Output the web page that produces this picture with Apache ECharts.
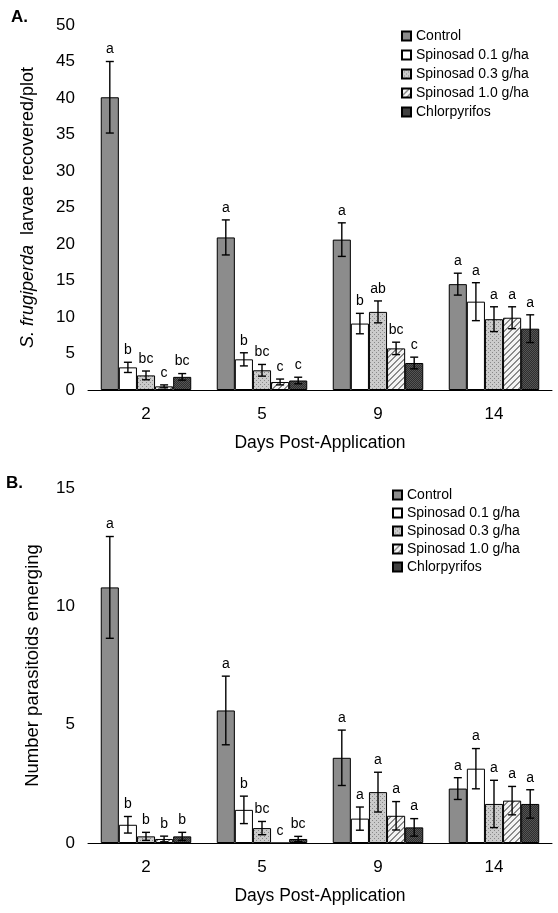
<!DOCTYPE html>
<html><head><meta charset="utf-8">
<script src="https://cdn.jsdelivr.net/npm/echarts@6/dist/echarts.min.js"></script>
<style>html,body{margin:0;padding:0;background:#fff}#c{width:558px;height:913px}</style>
</head><body><div id="c"></div>
<script>
// ---------- DATA ----------
const categories = ['2', '5', '9', '14'];
const seriesNames = ['Control', 'Spinosad 0.1 g/ha', 'Spinosad 0.3 g/ha', 'Spinosad 1.0 g/ha', 'Chlorpyrifos'];

// Panel A: S. frugiperda larvae recovered/plot
const larvaeControl = [40.1, 20.9, 20.6, 14.5];
const larvaeSpin01  = [3.1, 4.2, 9.1, 12.1];
const larvaeSpin03  = [2.0, 2.7, 10.7, 9.7];
const larvaeSpin10  = [0.5, 1.1, 5.7, 9.9];
const larvaeChlor   = [1.8, 1.3, 3.7, 8.4];
const larvaeErrControl = [4.9, 2.4, 2.3, 1.5];
const larvaeErrSpin01  = [0.7, 0.9, 1.4, 2.6];
const larvaeErrSpin03  = [0.6, 0.8, 1.5, 1.7];
const larvaeErrSpin10  = [0.2, 0.4, 0.85, 1.5];
const larvaeErrChlor   = [0.45, 0.45, 0.8, 1.9];
const larvaeLetControl = ['a', 'a', 'a', 'a'];
const larvaeLetSpin01  = ['b', 'b', 'b', 'a'];
const larvaeLetSpin03  = ['bc', 'bc', 'ab', 'a'];
const larvaeLetSpin10  = ['c', 'c', 'bc', 'a'];
const larvaeLetChlor   = ['bc', 'c', 'c', 'a'];
const larvaeTicks = [0, 5, 10, 15, 20, 25, 30, 35, 40, 45, 50];

// Panel B: Number parasitoids emerging
const parasControl = [10.8, 5.6, 3.6, 2.3];
const parasSpin01  = [0.77, 1.4, 1.03, 3.14];
const parasSpin03  = [0.28, 0.63, 2.15, 1.65];
const parasSpin10  = [0.17, 0, 1.15, 1.79];
const parasChlor   = [0.28, 0.17, 0.66, 1.65];
const parasErrControl = [2.15, 1.45, 1.17, 0.46];
const parasErrSpin01  = [0.35, 0.58, 0.49, 0.85];
const parasErrSpin03  = [0.17, 0.28, 0.84, 1.0];
const parasErrSpin10  = [0.12, 0, 0.6, 0.6];
const parasErrChlor   = [0.17, 0.11, 0.37, 0.6];
const parasLetControl = ['a', 'a', 'a', 'a'];
const parasLetSpin01  = ['b', 'b', 'a', 'a'];
const parasLetSpin03  = ['b', 'bc', 'a', 'a'];
const parasLetSpin10  = ['b', 'c', 'a', 'a'];
const parasLetChlor   = ['b', 'bc', 'a', 'a'];
const parasTicks = [0, 5, 10, 15];

// ---------- STYLE ----------
const GAP = 0.22;
function pat(w, h, fn) {
  const c = document.createElement('canvas'); c.width = w; c.height = h;
  const g = c.getContext('2d');
  for (let y = 0; y < h; y++) for (let x = 0; x < w; x++) { g.fillStyle = fn(x, y); g.fillRect(x, y, 1, 1); }
  return { image: c, repeat: 'repeat' };
}
const fills = [
  '#8c8c8c',
  '#ffffff',
  pat(4, 4, (x, y) => ((x % 2 === 0 && y % 2 === 0 && ((x + y) % 4 === 0)) ? '#888888' : '#cbcbcb')),
  pat(6, 6, (x, y) => (((x + y) % 6) < 2 ? '#8a8a8a' : '#f4f4f4')),
  pat(4, 4, (x, y) => (((x + y) % 2 === 0) ? '#555555' : '#2e2e2e'))
];

const panels = [
  { vals: [larvaeControl, larvaeSpin01, larvaeSpin03, larvaeSpin10, larvaeChlor],
    errs: [larvaeErrControl, larvaeErrSpin01, larvaeErrSpin03, larvaeErrSpin10, larvaeErrChlor],
    lets: [larvaeLetControl, larvaeLetSpin01, larvaeLetSpin03, larvaeLetSpin10, larvaeLetChlor] },
  { vals: [parasControl, parasSpin01, parasSpin03, parasSpin10, parasChlor],
    errs: [parasErrControl, parasErrSpin01, parasErrSpin03, parasErrSpin10, parasErrChlor],
    lets: [parasLetControl, parasLetSpin01, parasLetSpin03, parasLetSpin10, parasLetChlor] }
];

const FONT = 'Liberation Sans, Arial, Helvetica, sans-serif';
const series = [];
panels.forEach((p, pi) => {
  p.vals.forEach((v, si) => {
    series.push({
      type: 'bar', name: seriesNames[si], xAxisIndex: pi, yAxisIndex: pi,
      data: v, barGap: '0%', barCategoryGap: (GAP * 100) + '%',
      itemStyle: { color: fills[si], borderColor: '#000', borderWidth: 1 },
      emphasis: { disabled: true }, silent: true
    });
  });
  p.vals.forEach((v, si) => {
    const errs = p.errs[si], lets = p.lets[si];
    series.push({
      type: 'custom', xAxisIndex: pi, yAxisIndex: pi, silent: true, z: 10,
      data: v.map((val, ci) => [ci, val, errs[ci]]),
      renderItem: function (params, api) {
        const ci = api.value(0), val = api.value(1), e = api.value(2);
        const band = api.size([1, 0])[0];
        const bw = band * (1 - GAP) / 5;
        const c = api.coord([ci, val]);
        const x = c[0] - band * (1 - GAP) / 2 + bw * (si + 0.5);
        const top = api.coord([ci, val + e])[1];
        const bot = api.coord([ci, Math.max(val - e, 0)])[1];
        const children = [];
        if (e > 0) {
          const ls = { stroke: '#000', lineWidth: 1.4 };
          children.push({ type: 'line', shape: { x1: x, y1: top, x2: x, y2: bot }, style: ls });
          children.push({ type: 'line', shape: { x1: x - 4, y1: top, x2: x + 4, y2: top }, style: ls });
          children.push({ type: 'line', shape: { x1: x - 4, y1: bot, x2: x + 4, y2: bot }, style: ls });
        }
        children.push({ type: 'text', style: { text: lets[params.dataIndex], x: x, y: top - 5,
          textAlign: 'center', textVerticalAlign: 'bottom', fill: '#000', font: '14px ' + FONT } });
        return { type: 'group', children: children };
      }
    });
  });
});

const axisCommon = {
  axisLine: { lineStyle: { color: '#000', width: 1 } },
  axisTick: { lineStyle: { color: '#000' }, length: 5 },
  axisLabel: { color: '#000', fontSize: 17, fontFamily: FONT },
  splitLine: { show: false }
};

const option = {
  animation: false,
  backgroundColor: '#fff',
  textStyle: { fontFamily: FONT },
  grid: [
    { left: 88, right: 6, top: 25, height: 365 },
    { left: 88, right: 6, top: 488, height: 355 }
  ],
  xAxis: [0, 1].map(i => Object.assign({}, axisCommon, {
    type: 'category', gridIndex: i, data: categories,
    axisLabel: Object.assign({}, axisCommon.axisLabel, { margin: 16 }),
    name: 'Days Post-Application', nameLocation: 'middle', nameGap: 44,
    nameTextStyle: { color: '#000', fontSize: 17.5, fontFamily: FONT }
  })),
  yAxis: [
    Object.assign({}, axisCommon, {
      type: 'value', gridIndex: 0, min: larvaeTicks[0], max: larvaeTicks[larvaeTicks.length - 1], interval: 5,
      axisLabel: Object.assign({}, axisCommon.axisLabel, { margin: 13 }),
      name: '{i|S. frugiperda}  larvae recovered/plot', nameLocation: 'middle', nameGap: 51,
      nameTextStyle: { color: '#000', fontSize: 18, fontFamily: FONT,
        rich: { i: { fontStyle: 'italic', fontSize: 18, fontFamily: FONT, color: '#000' } } }
    }),
    Object.assign({}, axisCommon, {
      type: 'value', gridIndex: 1, min: parasTicks[0], max: parasTicks[parasTicks.length - 1], interval: 5,
      axisLabel: Object.assign({}, axisCommon.axisLabel, { margin: 13 }),
      name: 'Number parasitoids emerging', nameLocation: 'middle', nameGap: 46,
      nameTextStyle: { color: '#000', fontSize: 18.5, fontFamily: FONT }
    })
  ],
  legend: [
    { left: 401, top: 29, padding: 0, orient: 'vertical', itemWidth: 9, itemHeight: 9, itemGap: 5, icon: 'rect',
      data: seriesNames, selectedMode: false,
      textStyle: { fontSize: 14, color: '#000', fontFamily: FONT, lineHeight: 14 } },
    { left: 392, top: 488, padding: 0, orient: 'vertical', itemWidth: 9, itemHeight: 9, itemGap: 4, icon: 'rect',
      data: seriesNames, selectedMode: false,
      textStyle: { fontSize: 14, color: '#000', fontFamily: FONT, lineHeight: 14 } }
  ],
  graphic: [
    { type: 'text', left: 11, top: 9, style: { text: 'A.', font: 'bold 17px ' + FONT, fill: '#000' } },
    { type: 'text', left: 6, top: 475, style: { text: 'B.', font: 'bold 17px ' + FONT, fill: '#000' } }
  ],
  series: series
};

const chart = echarts.init(document.getElementById('c'), null, { renderer: 'canvas' });
chart.setOption(option);
</script>
</body></html>
